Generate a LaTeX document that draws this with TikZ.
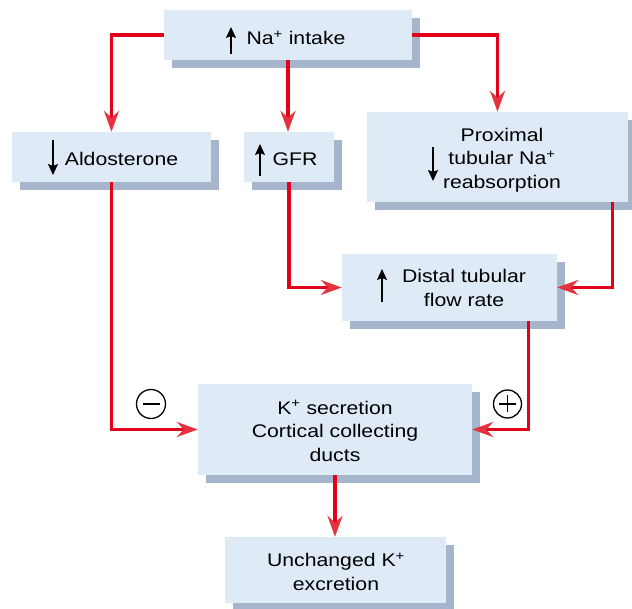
\documentclass[tikz,border=0pt]{standalone}
\usepackage{fontspec}
\setmainfont{Liberation Sans}[FakeStretch=1.16]
\usetikzlibrary{arrows.meta,shadows,calc}
\definecolor{boxfill}{RGB}{222,234,246}
\definecolor{shadowc}{RGB}{165,181,203}
\definecolor{conn}{RGB}{226,0,26}
\definecolor{headc}{RGB}{230,50,62}
\begin{document}
\begin{tikzpicture}[x=1pt,y=-1pt,
  box/.style={draw=none,fill=boxfill,inner sep=0pt,
    general shadow={fill=shadowc,shadow xshift=8pt,shadow yshift=-8pt}},
  lbl/.style={inner sep=0pt,align=center,text=black,font=\fontsize{18.3}{23.5}\selectfont},
  conn/.style={draw=conn,line width=3.3pt,line join=miter,
    -{Stealth[length=21pt,width=15pt,inset=7pt,fill=headc,color=headc]}},
  varr/.style={draw=black,line width=1.5pt,-{Stealth[length=11pt,width=10pt,inset=2pt]}},
  sign/.style={draw=black,line width=1.3pt}]
\useasboundingbox (0,0) rectangle (632,609);
% boxes
\node[box,minimum width=248pt,minimum height=50pt] (na) at (288,35) {};
\node[box,minimum width=199pt,minimum height=50pt] (ald) at (111.5,157) {};
\node[box,minimum width=90pt,minimum height=50pt] (gfr) at (289,157) {};
\node[box,minimum width=261pt,minimum height=90pt] (prox) at (497.5,157) {};
\node[box,minimum width=215pt,minimum height=67pt] (dist) at (449.5,287.5) {};
\node[box,minimum width=274pt,minimum height=91pt] (ksec) at (335,429.5) {};
\node[box,minimum width=221pt,minimum height=66pt] (unch) at (335.5,570) {};
% texts
\node[lbl,anchor=base] (tna) at (296,45) {Na\textsuperscript{+} intake};
\node[lbl,anchor=base] (tald) at (121.5,166) {Aldosterone};
\node[lbl,anchor=base] (tgfr) at (295,166) {GFR};
\node[lbl] (tprox) at (502,160) {Proximal\\tubular Na\textsuperscript{+}\\reabsorption};
\node[lbl] (tdist) at (464,288) {Distal tubular\\flow rate};
\node[lbl] (tksec) at (335,431) {K\textsuperscript{+} secretion\\Cortical collecting\\ducts};
\node[lbl] (tunch) at (336,572) {Unchanged K\textsuperscript{+}\\excretion};
% small arrows inside boxes
\coordinate (a1) at (231,54); \coordinate (a1e) at (231,27);
\coordinate (a2) at (53,140); \coordinate (a2e) at (53,175);
\coordinate (a3) at (260,176); \coordinate (a3e) at (260,144);
\coordinate (a4) at (433,147); \coordinate (a4e) at (433,181);
\coordinate (a5) at (382,302); \coordinate (a5e) at (382,269);
\draw[varr] (a1) -- (a1e);
\draw[varr] (a2) -- (a2e);
\draw[varr] (a3) -- (a3e);
\draw[varr] (a4) -- (a4e);
\draw[varr] (a5) -- (a5e);
% connectors
\draw[conn] (na.west) -| (ald.north);
\draw[conn] (na.south) -- (na.south |- gfr.north);
\draw[conn] (na.east) -| (prox.north);
\draw[conn] (ald.south) |- (ksec.west);
\draw[conn] (gfr.south) |- (dist.west);
\draw[conn] ([xshift=-16pt]prox.south east) |- (dist.east);
\draw[conn] ([xshift=-29pt]dist.south east) |- (ksec.east);
\draw[conn] (ksec.south) -- (ksec.south |- unch.north);
% signs
\node[sign,circle,minimum size=29pt,inner sep=0pt] (minus) at (151,404) {};
\draw[sign] ([xshift=-8.5pt]minus.center) -- ([xshift=8.5pt]minus.center);
\node[sign,circle,minimum size=28pt,inner sep=0pt] (plus) at (507.5,404) {};
\draw[sign] ([xshift=-8.5pt]plus.center) -- ([xshift=8.5pt]plus.center);
\draw[sign] ([yshift=-8.5pt]plus.center) -- ([yshift=8.5pt]plus.center);
\end{tikzpicture}
\end{document}
